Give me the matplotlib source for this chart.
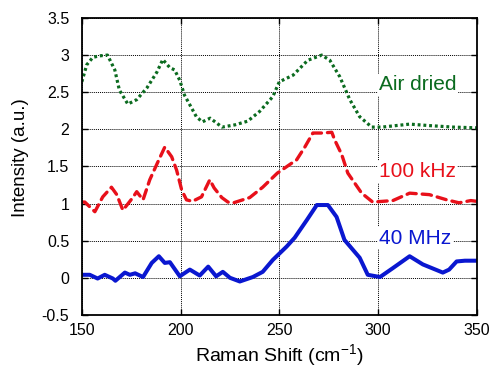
import matplotlib
matplotlib.use("Agg")
import matplotlib.pyplot as plt

# Air dried (green, dotted)
air_x = [150, 152.5, 155.6, 159, 163, 166.7, 169, 173.3, 177.8, 183, 188, 191, 194.6,
         197, 199.6, 202, 208, 211, 215, 221, 227.5, 234, 240, 246.7, 250, 257, 264.4,
         271.5, 275.6, 280.6, 285.7, 290.7, 296.8, 302, 309, 316, 326, 338, 350]
air_y = [2.64, 2.87, 2.97, 2.99, 3.0, 2.8, 2.53, 2.34, 2.40, 2.56, 2.77, 2.94, 2.83,
         2.80, 2.66, 2.46, 2.17, 2.10, 2.15, 2.03, 2.06, 2.11, 2.24, 2.44, 2.64, 2.73, 2.93,
         3.0, 2.93, 2.71, 2.40, 2.17, 2.03, 2.03, 2.05, 2.07, 2.05, 2.03, 2.02]

# 100 kHz (red, dashed)
khz_x = [150, 151.5, 156.6, 160.6, 165, 167.7, 170.8, 175.8, 177.8, 181, 184.4, 188.5,
         192, 195.5, 198, 200.6, 203, 206, 210.6, 214.8, 217, 220.9, 224, 226.8, 235,
         241.6, 249, 258.8, 262.9, 267, 271.5, 276.6, 278, 281.6, 284.7, 291.7, 297.3,
         307.5, 316, 326, 334.8, 341, 347, 350]
khz_y = [1.02, 1.02, 0.89, 1.09, 1.22, 1.12, 0.91, 1.08, 1.16, 1.05, 1.32, 1.56,
         1.76, 1.63, 1.45, 1.18, 1.05, 1.03, 1.09, 1.32, 1.21, 1.08, 1.02, 1.01, 1.08,
         1.22, 1.41, 1.59, 1.76, 1.95, 1.95, 1.96, 1.86, 1.66, 1.41, 1.14, 1.02,
         1.04, 1.14, 1.12, 1.05, 1.01, 1.04, 1.03]

# 40 MHz (blue, solid)
mhz_x = [150, 154, 158, 161.6, 165.7, 167, 171.8, 174.3, 177, 181, 185.4, 189, 192,
         194.6, 199.6, 204.7, 209.7, 214, 218, 221.4, 225, 230, 236.6, 241.6, 246.7,
         253.7, 257.8, 264, 269, 274.6, 279, 283, 290.7, 294.8, 301, 307.5, 316, 322.7,
         332.8, 336, 339.8, 344, 350]
mhz_y = [0.04, 0.04, -0.01, 0.04, -0.01, -0.04, 0.07, 0.04, 0.06, 0.01, 0.2, 0.29, 0.2,
         0.21, 0.02, 0.11, 0.03, 0.15, 0.02, 0.08, 0.0, -0.05, 0.01, 0.08, 0.24,
         0.42, 0.54, 0.78, 0.98, 0.98, 0.82, 0.51, 0.27, 0.04, 0.01, 0.13, 0.29, 0.18,
         0.07, 0.11, 0.22, 0.23, 0.23]

labels = ["Air dried", "100 kHz", "40 MHz"]
label_y = [2.6, 1.43, 0.53]
colors = ["#0b6b1f", "#e8101a", "#0a17d0"]

plt.rcParams["font.family"] = ["Liberation Sans", "DejaVu Sans"]
plt.rcParams["mathtext.default"] = "regular"

fig = plt.figure(figsize=(4.9, 3.67), dpi=100)
ax = fig.add_axes([0.167, 0.142, 0.806, 0.809])

ax.plot(air_x, air_y, color=colors[0], lw=2.3, linestyle=(0, (0.9, 0.9)))
ax.plot(khz_x, khz_y, color=colors[1], lw=2.4, linestyle=(0, (2.8, 1.8)),
        dash_capstyle="round")
ax.plot(mhz_x, mhz_y, color=colors[2], lw=2.9, solid_capstyle="round",
        solid_joinstyle="round")

for lab, yy, c in zip(labels, label_y, colors):
    ax.text(300.5, yy, lab, color=c, fontsize=15, va="center", ha="left",
            bbox=dict(facecolor="white", edgecolor="none", pad=1))

ax.set_xlim(150, 350)
ax.set_ylim(-0.5, 3.5)
ax.set_xticks([150, 200, 250, 300, 350])
ax.set_yticks([-0.5, 0, 0.5, 1, 1.5, 2, 2.5, 3, 3.5])
ax.set_yticklabels(["-0.5", "0", "0.5", "1", "1.5", "2", "2.5", "3", "3.5"])
ax.grid(True, color="black", linestyle=(0, (1, 1)), lw=0.7)
ax.tick_params(direction="in", top=True, right=True, labelsize=11.5, length=4, width=1)
ax.tick_params(axis="y", pad=9)
ax.tick_params(axis="x", pad=6)
for s in ax.spines.values():
    s.set_linewidth(1.3)

ax.set_xlabel("Raman Shift (cm$^{-1}$)", fontsize=14, labelpad=3)
ax.set_ylabel("Intensity (a.u.)", fontsize=13.5)
ax.yaxis.set_label_coords(-0.135, 0.53)

fig.savefig("out.png", dpi=100)
